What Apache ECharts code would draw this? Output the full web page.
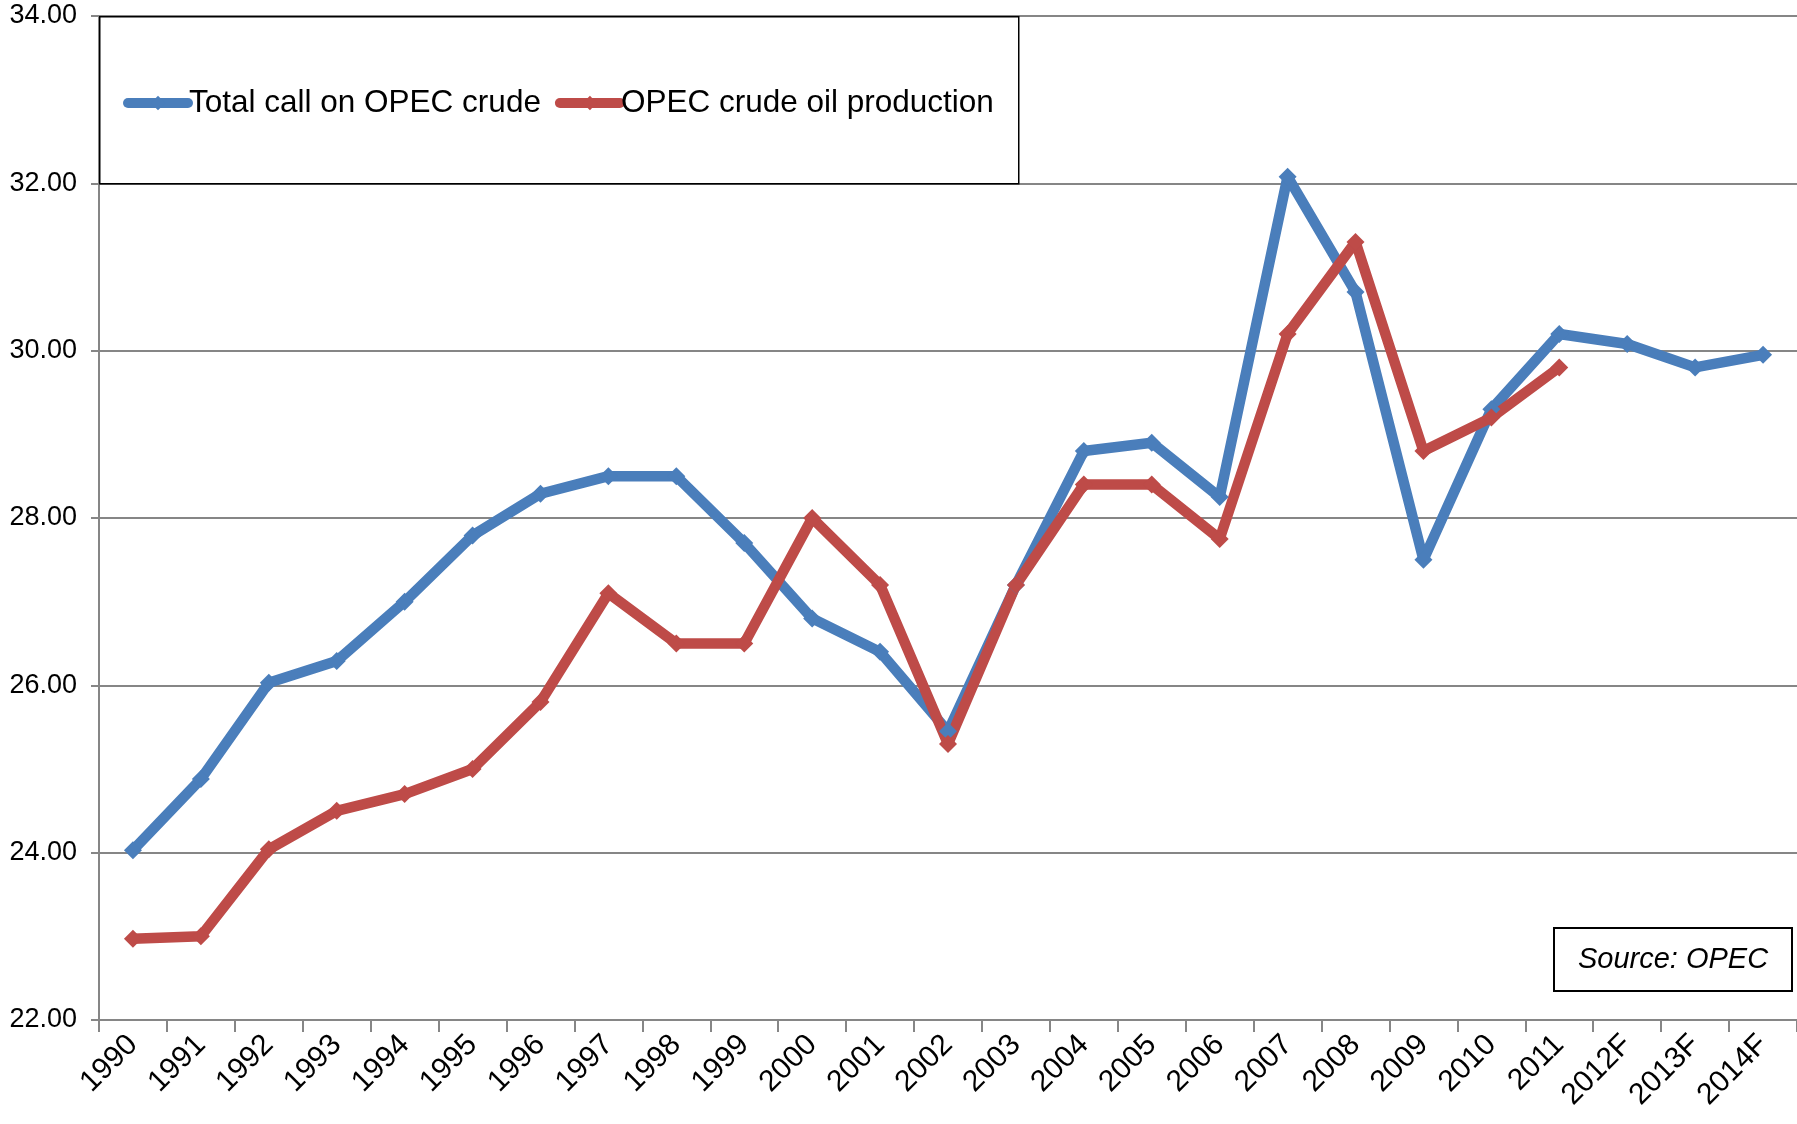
<!DOCTYPE html>
<html>
<head>
<meta charset="utf-8">
<script src="https://cdn.jsdelivr.net/npm/echarts@6/dist/echarts.min.js"></script>
<style>
  html, body { margin: 0; padding: 0; background: #fff; }
  #chart { width: 1797px; height: 1124px; }
</style>
</head>
<body>
<div id="chart"></div>
<script>
// years on the x axis
var years = ['1990', '1991', '1992', '1993', '1994', '1995', '1996', '1997', '1998', '1999',
  '2000', '2001', '2002', '2003', '2004', '2005', '2006', '2007', '2008', '2009',
  '2010', '2011', '2012F', '2013F', '2014F']

// mb/d
var totalCall = [24.03, 24.88, 26.03, 26.29, 27.0, 27.79, 28.29, 28.5, 28.5, 27.7,
  26.8, 26.4, 25.45, 27.2, 28.8, 28.9, 28.25, 32.08, 30.7, 27.5,
  29.3, 30.2, 30.08, 29.8, 29.95]
var production = [22.97, 23.0, 24.04, 24.5, 24.7, 25.0, 25.8, 27.1, 26.5, 26.5,
  28.0, 27.2, 25.3, 27.2, 28.4, 28.4, 27.75, 30.2, 31.3, 28.8,
  29.2, 29.8]

var seriesNames = ['Total call on OPEC crude', 'OPEC crude oil production']
var colors = ['#4A7EBB', '#BE4B48']

var font = 'Liberation Sans, Arial, sans-serif'

var chart = echarts.init(document.getElementById('chart'))

function lineSeries(name, data, color) {
  return {
    name: name,
    type: 'line',
    data: data,
    symbol: 'diamond',
    symbolSize: 18,
    z: 3,
    itemStyle: { color: color },
    lineStyle: { color: color, width: 10.5, join: 'round' }
  }
}

chart.setOption({
  animation: false,
  color: colors,
  textStyle: { fontFamily: font, color: '#000' },
  grid: {
    left: 99,
    right: 0,
    top: 16,
    bottom: 104
  },
  legend: {
    data: seriesNames,
    left: 118,
    top: 82,
    itemWidth: 60,
    itemHeight: 18,
    itemGap: 14,
    z: 10,
    lineStyle: { width: 10, cap: 'round' },
    textStyle: { fontFamily: font, fontSize: 31.5, color: '#000', padding: [0, 0, 0, -4] }
  },
  xAxis: {
    type: 'category',
    data: years,
    boundaryGap: true,
    axisLine: { lineStyle: { color: '#868686', width: 2 } },
    axisTick: { show: true, length: 12, lineStyle: { color: '#868686', width: 2 } },
    axisLabel: {
      rotate: 45,
      interval: 0,
      fontSize: 30,
      color: '#000',
      fontFamily: font,
      margin: 20
    }
  },
  yAxis: {
    type: 'value',
    min: 22,
    max: 34,
    interval: 2,
    axisLine: { show: true, lineStyle: { color: '#868686', width: 2 } },
    axisTick: { show: true, length: 8, lineStyle: { color: '#868686', width: 2 } },
    splitLine: { lineStyle: { color: '#868686', width: 2 } },
    axisLabel: {
      fontSize: 27,
      color: '#000',
      fontFamily: font,
      margin: 22,
      formatter: function (v) { return v.toFixed(2) }
    }
  },
  graphic: [
    {
      // legend frame
      type: 'rect',
      left: 99,
      top: 16,
      z: 5,
      shape: { width: 919, height: 167 },
      style: { fill: '#fff', stroke: '#000', lineWidth: 1.5 }
    },
    {
      type: 'group',
      left: 1553,
      top: 927,
      z: 5,
      children: [
        {
          type: 'rect',
          shape: { width: 238, height: 63 },
          style: { fill: '#fff', stroke: '#000', lineWidth: 2 }
        },
        {
          type: 'text',
          x: 119,
          y: 32,
          style: {
            text: 'Source: OPEC',
            fill: '#000',
            font: 'italic 29px ' + font,
            align: 'center',
            verticalAlign: 'middle'
          }
        }
      ]
    }
  ],
  series: [
    lineSeries(seriesNames[0], totalCall, colors[0]),
    lineSeries(seriesNames[1], production, colors[1])
  ]
})
</script>
</body>
</html>
